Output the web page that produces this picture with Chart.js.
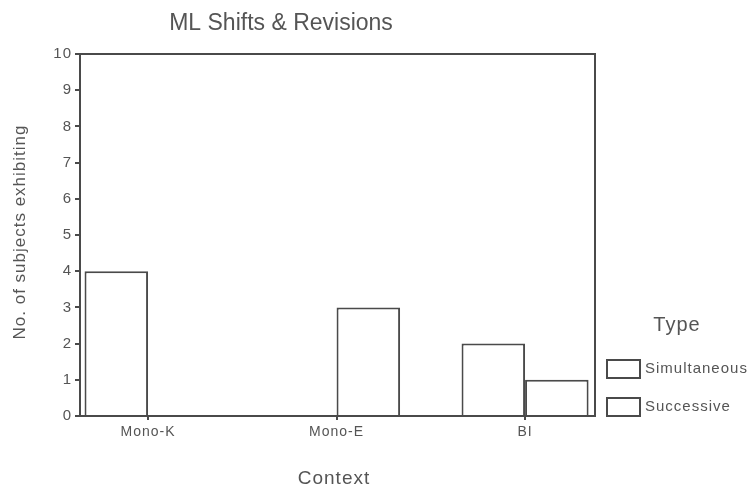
<!DOCTYPE html>
<html>
<head>
<meta charset="utf-8">
<script src="https://cdn.jsdelivr.net/npm/chart.js@4/dist/chart.umd.min.js"></script>
<style>
html,body{margin:0;padding:0;background:#fff;}
#wrap{width:752px;height:488px;position:relative;}
</style>
</head>
<body>
<div id="wrap"><canvas id="c" width="752" height="488"></canvas></div>
<script>
const chartTitle = "ML Shifts & Revisions";
const xTitle = "Context";
const yTitle = "No. of subjects exhibiting";
const legendTitle = "Type";
const categories = ["Mono-K", "Mono-E", "BI"];
const simultaneous = [4, 0, 2];
const successive = [0, 3, 1];
const yTicks = [0,1,2,3,4,5,6,7,8,9,10];

const INK = '#4a4a4a';
const TXT = '#555555';
const FONT = '"Liberation Sans", Arial, sans-serif';

const toPoints = arr => arr.map((v, i) => ({x: i + 1, y: v}));

const barStyle = {
  backgroundColor: '#ffffff',
  borderColor: INK,
  borderWidth: 2,
  borderSkipped: 'start',
  categoryPercentage: 0.674,
  barPercentage: 1.0
};

const decor = {
  id: 'decor',
  beforeDraw(chart) {
    chart.ctx.letterSpacing = '1px';
  },
  afterDatasetsDraw(chart) {
    const {ctx, chartArea: a} = chart;
    ctx.save();
    ctx.strokeStyle = INK;
    ctx.lineWidth = 2;
    ctx.beginPath();
    ctx.moveTo(a.left, a.top);
    ctx.lineTo(a.right, a.top);
    ctx.lineTo(a.right, a.bottom);
    ctx.stroke();
    ctx.fillStyle = TXT;
    ctx.textAlign = 'center';
    ctx.textBaseline = 'middle';
    ctx.letterSpacing = '0px';
    ctx.font = '23px ' + FONT;
    ctx.fillText(chartTitle, 281, 24);
    ctx.letterSpacing = '1px';
    ctx.font = '19px ' + FONT;
    ctx.fillText(xTitle, 334, 479);
    ctx.save();
    ctx.translate(20, 232);
    ctx.rotate(-Math.PI / 2);
    ctx.font = '17px ' + FONT;
    ctx.fillText(yTitle, 0, 0);
    ctx.restore();
    ctx.font = '20px ' + FONT;
    ctx.fillText(legendTitle, 677, 325);
    ctx.font = '15px ' + FONT;
    ctx.textAlign = 'left';
    const ys = [369, 407];
    chart.data.datasets.forEach((ds, i) => {
      ctx.fillStyle = '#fff';
      ctx.fillRect(607, ys[i] - 9, 33, 18);
      ctx.strokeStyle = INK;
      ctx.lineWidth = 2;
      ctx.strokeRect(607, ys[i] - 9, 33, 18);
      ctx.fillStyle = TXT;
      ctx.fillText(ds.label, 645, ys[i]);
    });
    ctx.restore();
  }
};

new Chart(document.getElementById('c'), {
  type: 'bar',
  data: {
    datasets: [
      Object.assign({label: 'Simultaneous', data: toPoints(simultaneous)}, barStyle),
      Object.assign({label: 'Successive', data: toPoints(successive)}, barStyle)
    ]
  },
  options: {
    responsive: false,
    animation: false,
    devicePixelRatio: 1,
    layout: {padding: {left: 0, right: 157, top: 54, bottom: 0}},
    plugins: {
      legend: {display: false},
      title: {display: false},
      tooltip: {enabled: false},
      colors: {enabled: false}
    },
    scales: {
      x: {
        type: 'linear',
        offset: false,
        min: 0.639,
        max: 3.371,
        afterFit(s) { s.height = 72; },
        afterBuildTicks(s) { s.ticks = categories.map((c, i) => ({value: i + 1})); },
        grid: {display: true, offset: false, drawOnChartArea: false, drawTicks: true, tickLength: 4, color: INK, lineWidth: 2},
        border: {display: true, color: INK, width: 2},
        ticks: {
          color: TXT,
          font: {family: FONT, size: 14},
          padding: 4,
          maxRotation: 0,
          autoSkip: false,
          callback: v => categories[v - 1]
        }
      },
      y: {
        min: 0,
        max: 10,
        afterFit(s) { s.width = 80; },
        afterBuildTicks(s) { s.ticks = yTicks.map(v => ({value: v})); },
        grid: {display: true, drawOnChartArea: false, drawTicks: true, tickLength: 5, color: INK, lineWidth: 2},
        border: {display: true, color: INK, width: 2},
        ticks: {
          color: TXT,
          font: {family: FONT, size: 15},
          padding: 3,
          autoSkip: false
        }
      }
    }
  },
  plugins: [decor]
});
</script>
</body>
</html>
